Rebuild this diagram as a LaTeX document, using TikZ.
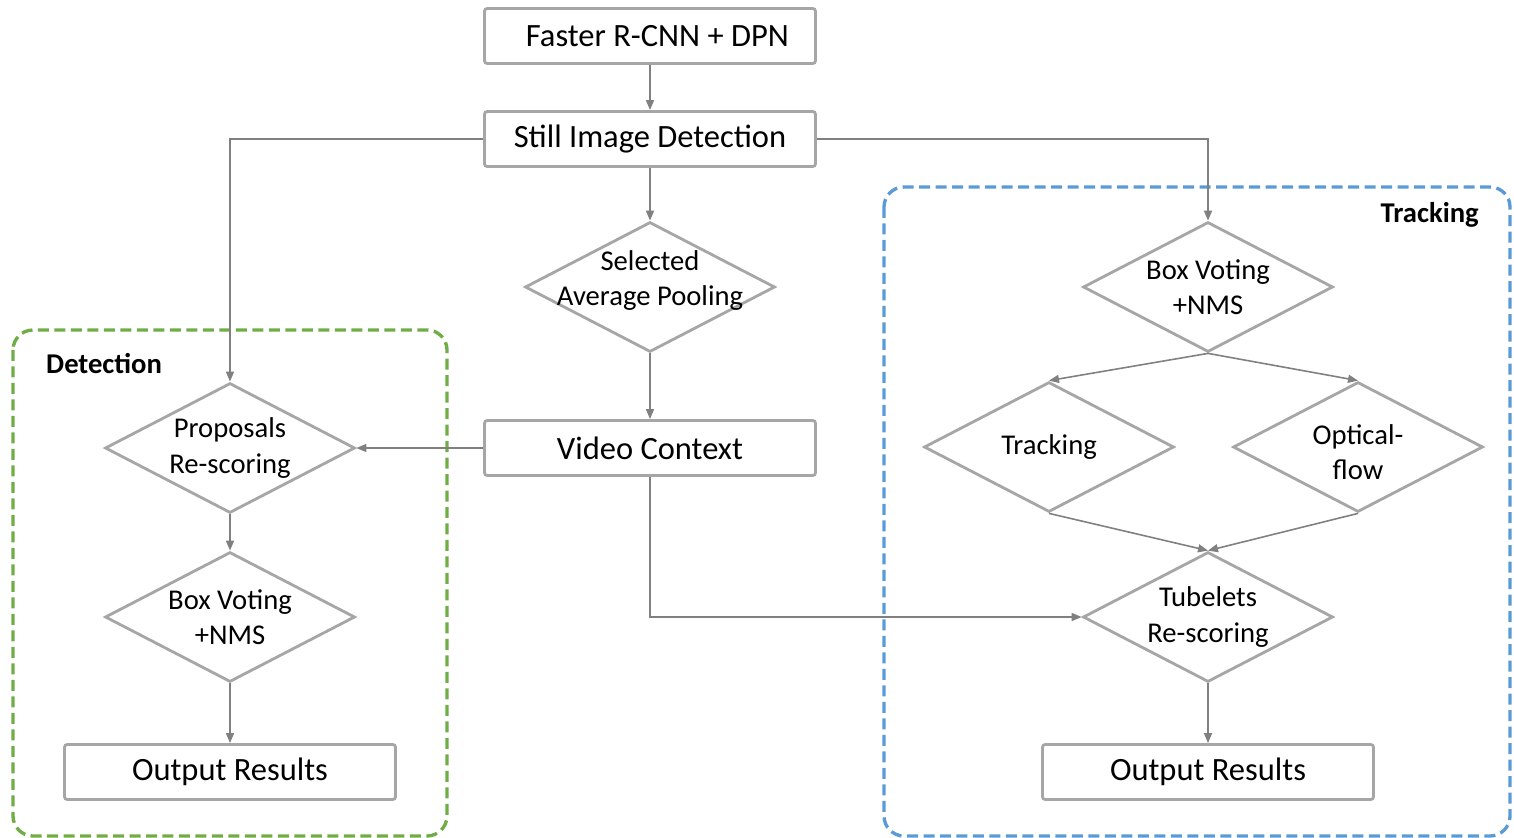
\documentclass[tikz,border=0pt]{standalone}
\usepackage{fontspec}
\setmainfont{Carlito}
\usetikzlibrary{shapes.geometric,arrows.meta}
\definecolor{boxgray}{RGB}{166,166,166}
\definecolor{linegray}{RGB}{128,128,128}
\definecolor{detgreen}{RGB}{112,173,71}
\definecolor{trkblue}{RGB}{91,155,213}
\begin{document}
\begin{tikzpicture}[
        x=0.02cm, y=-0.02cm,
        font=\fontsize{18.5}{22}\selectfont,
        >={Triangle[length=2mm,width=1.6mm]}
    ]
    \tikzset{
        stepbox/.style = {rectangle, rounded corners=1.5pt, draw=boxgray, line width=1.6pt, fill=white, align=center, minimum width=6.62cm, minimum height=1.1cm},
        decision/.style 2 args = {diamond, draw=boxgray, line width=1.6pt, fill=white, inner sep=0pt, minimum width=5cm, minimum height=2.6cm,
            label={[align=center, yshift=#2, font=\fontsize{16.3}{20}\selectfont]center:#1}},
        arrow/.style = {->, draw=linegray, line width=0.9pt},
        groupbox/.style = {line width=1.9pt, rounded corners=0.4cm, dash pattern=on 2.2mm off 1.1mm},
        grouplabel/.style = {font=\fontsize{16.3}{19}\selectfont\bfseries}
    }
    \useasboundingbox (0,0) rectangle (1514,838);
    \draw[groupbox, draw=detgreen] (13,330) rectangle (447,836);
    \draw[groupbox, draw=trkblue] (884,187) rectangle (1510,836);
    \node[grouplabel, anchor=west] (detlabel) at (40,364) {Detection};
    \node[grouplabel, anchor=east] (trklabel) at (1485,215) {Tracking};

    \node[stepbox] (fasterrcnn) at (650,36) {\ \ Faster R-CNN + DPN};
    \node[stepbox] (stillimg) at (650,139) {Still Image Detection};
    \node[decision={Selected\\Average Pooling}{3.7pt}] (avgpool) at (650,287) {};
    \node[stepbox] (videoctx) at (650,448) {Video Context};

    \node[decision={Proposals\\Re-scoring}{0pt}] (proposals) at (230,448) {};
    \node[decision={Box Voting\\+NMS}{0pt}] (boxvoteL) at (230,617) {};
    \node[stepbox] (outputL) at (230,772) {Output Results};

    \node[decision={Box Voting\\+NMS}{0pt}] (boxvoteR) at (1208,287) {};
    \node[decision={Tracking}{0pt}] (tracking) at (1049,447) {};
    \node[decision={Optical-\\flow}{-3pt}] (optflow) at (1358,447) {};
    \node[decision={Tubelets\\Re-scoring}{0pt}] (tubelets) at (1208,617) {};
    \node[stepbox] (outputR) at (1208,772) {Output Results};

    \draw[arrow] (fasterrcnn) -- (stillimg);
    \draw[arrow] (stillimg) -- (avgpool);
    \draw[arrow] (avgpool) -- (videoctx);
    \draw[arrow] (stillimg.west) -| (proposals.north);
    \draw[arrow] (stillimg.east) -| (boxvoteR.north);
    \draw[arrow] (videoctx.west) -- (proposals.east);
    \draw[arrow] (proposals) -- (boxvoteL);
    \draw[arrow] (boxvoteL) -- (outputL);
    \draw[arrow] (videoctx.south) |- (tubelets.west);
    \draw[arrow] (boxvoteR.south) -- (tracking.north);
    \draw[arrow] (boxvoteR.south) -- (optflow.north);
    \draw[arrow] (tracking.south) -- (tubelets.north);
    \draw[arrow] (optflow.south) -- (tubelets.north);
    \draw[arrow] (tubelets) -- (outputR);
\end{tikzpicture}
\end{document}
